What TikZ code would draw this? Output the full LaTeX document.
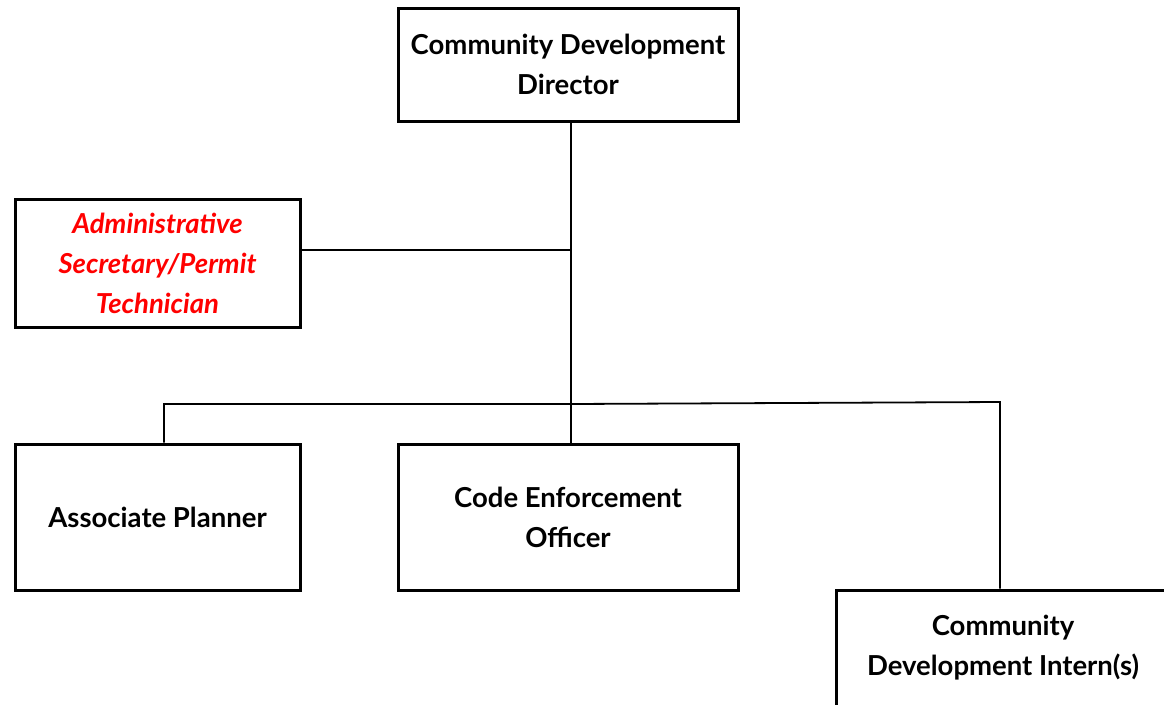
\documentclass[tikz,border=0pt]{standalone}
\usepackage{fontspec}
\setmainfont{Lato}
\begin{document}
\begin{tikzpicture}[x=1pt,y=-1pt,
  post/.style={draw=black,line width=3pt,fill=white,align=center,
    font=\fontsize{27.5}{40}\selectfont\bfseries,inner sep=0pt},
  link/.style={draw=black,line width=1.8pt}]
\useasboundingbox (0,0) rectangle (1164,704);
\clip (0,0) rectangle (1164,704);
% positions of the boxes
\node[post,minimum width=340pt,minimum height=113pt] (dir) at (568,64.5)
  {Community Development\\Director};
\node[post,minimum width=285pt,minimum height=128pt,text=red,
  font=\fontsize{27.5}{40}\selectfont\bfseries\itshape] (adm) at (157.5,263)
  {Administrative\\Secretary/Permit\\Technician};
\node[post,minimum width=285pt,minimum height=146pt] (ap) at (157.5,517)
  {Associate Planner};
\node[post,minimum width=340pt,minimum height=146pt] (ceo) at (568,517)
  {Code Enforcement\\Officer};
\node[post,minimum width=334pt,minimum height=116pt] (int) at (1003,648)
  {Community\\Development Intern(s)};
% reporting lines
\coordinate (j1) at (571,250);
\coordinate (j2) at (571,404);
\coordinate (l) at (164,404);
\coordinate (r) at (1000,402);
\draw[link] (dir.south -| j1) -- (ceo.north -| j1);
\draw[link] (adm.east |- j1) -- (j1);
\draw[link] (ap.north -| l) -- (l) -- (j2) -- (r) -- (int.north -| r);
\end{tikzpicture}
\end{document}
